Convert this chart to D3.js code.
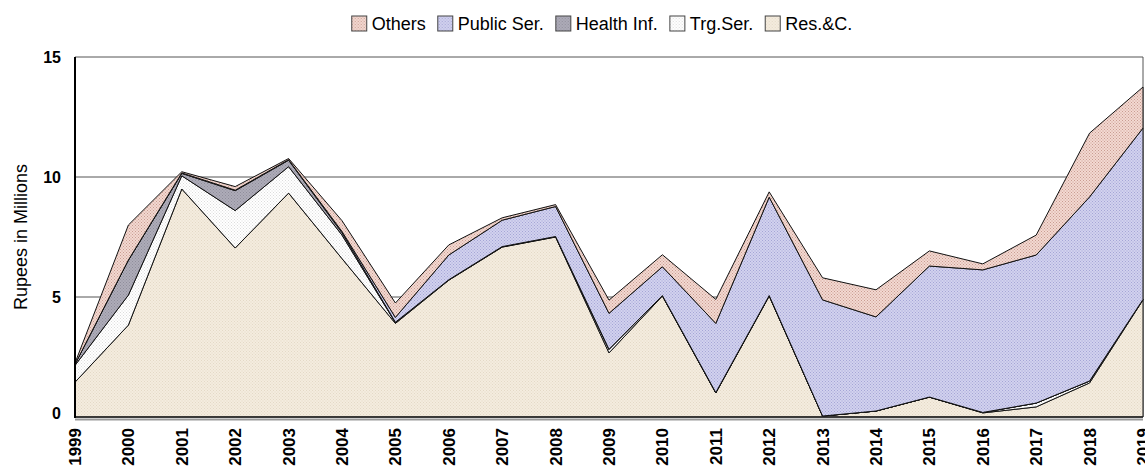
<!DOCTYPE html>
<html>
<head>
<meta charset="utf-8">
<script src="https://cdn.jsdelivr.net/npm/d3@7"></script>
<style>
  body { margin: 0; background: #fff; }
  svg { display: block; font-family: "Liberation Sans", Arial, sans-serif; }
</style>
</head>
<body>
<div id="chart"></div>
<script>
// values (Rupees in Millions)
const years = [1999, 2000, 2001, 2002, 2003, 2004, 2005, 2006, 2007, 2008, 2009,
               2010, 2011, 2012, 2013, 2014, 2015, 2016, 2017, 2018, 2019];
const resC      = [1.45, 3.83, 9.5, 7.04, 9.33, 6.6, 3.9, 5.7, 7.08, 7.5, 2.67,
                   5.04, 1.0, 5.04, 0.04, 0.25, 0.83, 0.17, 0.42, 1.42, 4.88];
const trgSer    = [0.7, 1.25, 0.55, 1.56, 1.1, 0.98, 0.03, 0.02, 0.02, 0.02, 0.15,
                   0.02, 0.02, 0.02, 0, 0, 0, 0.02, 0.16, 0.08, 0.02];
const healthInf = [0.05, 1.46, 0.1, 0.83, 0.27, 0.1, 0.02, 0, 0, 0, 0,
                   0, 0, 0, 0, 0, 0, 0, 0, 0, 0];
const publicSer = [0, 0, 0.02, 0.02, 0.02, 0.05, 0.2, 1.03, 1.1, 1.25, 1.5,
                   1.2, 2.88, 4.1, 4.84, 3.92, 5.46, 5.94, 6.17, 7.67, 7.14];
const others    = [0.05, 1.46, 0.05, 0.15, 0.05, 0.45, 0.6, 0.42, 0.1, 0.08, 0.55,
                   0.5, 1.0, 0.22, 0.92, 1.13, 0.63, 0.25, 0.83, 2.66, 1.71];
const yTicks = [0, 5, 10, 15];
const legendOrder = ["Others", "Public Ser.", "Health Inf.", "Trg.Ser.", "Res.&C."];

// stack order, bottom first
const keys = ["Res.&C.", "Trg.Ser.", "Health Inf.", "Public Ser.", "Others"];
const seriesVals = {
  "Res.&C.": resC, "Trg.Ser.": trgSer, "Health Inf.": healthInf,
  "Public Ser.": publicSer, "Others": others
};
const table = years.map((yr, i) => {
  const row = { year: yr };
  keys.forEach(k => row[k] = seriesVals[k][i]);
  return row;
});

const width = 1145;
const height = 471;
const marginTop = 57;
const marginRight = 2;
const marginBottom = 54;
const marginLeft = 75;

const svg = d3.select("#chart")
  .append("svg")
  .attr("width", width)
  .attr("height", height);

// hatch-like textures, one per series
const defs = svg.append("defs");
const pats = {
  "Res.&C.":     { bg: "#f4ecdf", dot: "#e4d9c6", id: "pRes" },
  "Trg.Ser.":    { bg: "#ffffff", dot: "#dcdcdc", id: "pTrg" },
  "Health Inf.": { bg: "#aeacb8", dot: "#8f8d9b", id: "pHea" },
  "Public Ser.": { bg: "#d2d2ee", dot: "#a5a5d6", id: "pPub" },
  "Others":      { bg: "#f3d9d1", dot: "#c99c92", id: "pOth" }
};
Object.values(pats).forEach(p => {
  const pat = defs.append("pattern")
    .attr("id", p.id)
    .attr("patternUnits", "userSpaceOnUse")
    .attr("width", 3).attr("height", 3);
  pat.append("rect").attr("width", 3).attr("height", 3).attr("fill", p.bg);
  pat.append("rect").attr("x", 0).attr("y", 0).attr("width", 1).attr("height", 1).attr("fill", p.dot);
  pat.append("rect").attr("x", 1.5).attr("y", 1.5).attr("width", 1).attr("height", 1).attr("fill", p.dot);
});

const x = d3.scaleLinear([years[0], years[years.length - 1]], [marginLeft, width - marginRight]);
const y = d3.scaleLinear([0, 15], [height - marginBottom, marginTop]);

// grid lines (behind areas)
svg.append("g")
  .selectAll("line")
  .data(yTicks.filter(d => d > 0))
  .join("line")
  .attr("x1", marginLeft).attr("x2", width - marginRight)
  .attr("y1", d => y(d)).attr("y2", d => y(d))
  .attr("stroke", "#555")
  .attr("stroke-width", 1);

// right border
svg.append("line")
  .attr("x1", width - marginRight).attr("x2", width - marginRight)
  .attr("y1", y(15)).attr("y2", y(0))
  .attr("stroke", "#555");

const stacked = d3.stack().keys(keys)(table);

const area = d3.area()
  .x(d => x(d.data.year))
  .y0(d => y(d[0]))
  .y1(d => y(d[1]));

svg.append("g")
  .selectAll("path")
  .data(stacked)
  .join("path")
  .attr("d", area)
  .attr("fill", d => `url(#${pats[d.key].id})`)
  .attr("stroke", "#111")
  .attr("stroke-width", 1)
  .attr("stroke-linejoin", "miter");

// baseline: black line with grey underline
svg.append("line")
  .attr("x1", marginLeft).attr("x2", width - marginRight)
  .attr("y1", y(0) + 2.5).attr("y2", y(0) + 2.5)
  .attr("stroke", "#999").attr("stroke-width", 2);
svg.append("line")
  .attr("x1", marginLeft).attr("x2", width - marginRight)
  .attr("y1", y(0)).attr("y2", y(0))
  .attr("stroke", "#222").attr("stroke-width", 1.5);

// left axis
svg.append("line")
  .attr("x1", marginLeft).attr("x2", marginLeft)
  .attr("y1", y(15)).attr("y2", y(0) + 1)
  .attr("stroke", "#000").attr("stroke-width", 2);

svg.append("g")
  .selectAll("text")
  .data(yTicks)
  .join("text")
  .attr("x", 61)
  .attr("y", d => y(d) - (d === 0 ? 4 : 0))
  .attr("dy", "0.35em")
  .attr("text-anchor", "end")
  .attr("font-size", 16)
  .attr("font-weight", "bold")
  .text(d => d);

svg.append("text")
  .attr("transform", `translate(27,${(y(0) + y(15)) / 2}) rotate(-90)`)
  .attr("text-anchor", "middle")
  .attr("font-size", 18)
  .text("Rupees in Millions");

// year labels, rotated (last one runs off the edge, as in the original)
svg.append("g")
  .selectAll("text")
  .data(years)
  .join("text")
  .attr("transform", d => `translate(${x(d) + 6},${y(0) + 11}) rotate(-90)`)
  .attr("text-anchor", "end")
  .attr("font-size", 17)
  .attr("font-weight", "bold")
  .text(d => d);

// legend, laid out from measured text widths and centred
const lg = svg.append("g");
const gap = 12;
let cx = 0;
legendOrder.forEach(k => {
  lg.append("rect")
    .attr("x", cx).attr("y", 16)
    .attr("width", 15).attr("height", 15)
    .attr("fill", `url(#${pats[k].id})`)
    .attr("stroke", "#444");
  const t = lg.append("text")
    .attr("x", cx + 20).attr("y", 24)
    .attr("dy", "0.35em")
    .attr("font-size", 18)
    .text(k);
  cx += 20 + t.node().getComputedTextLength() + gap;
});
const legendW = cx - gap;
lg.attr("transform", `translate(${602 - legendW / 2},0)`);
</script>
</body>
</html>
